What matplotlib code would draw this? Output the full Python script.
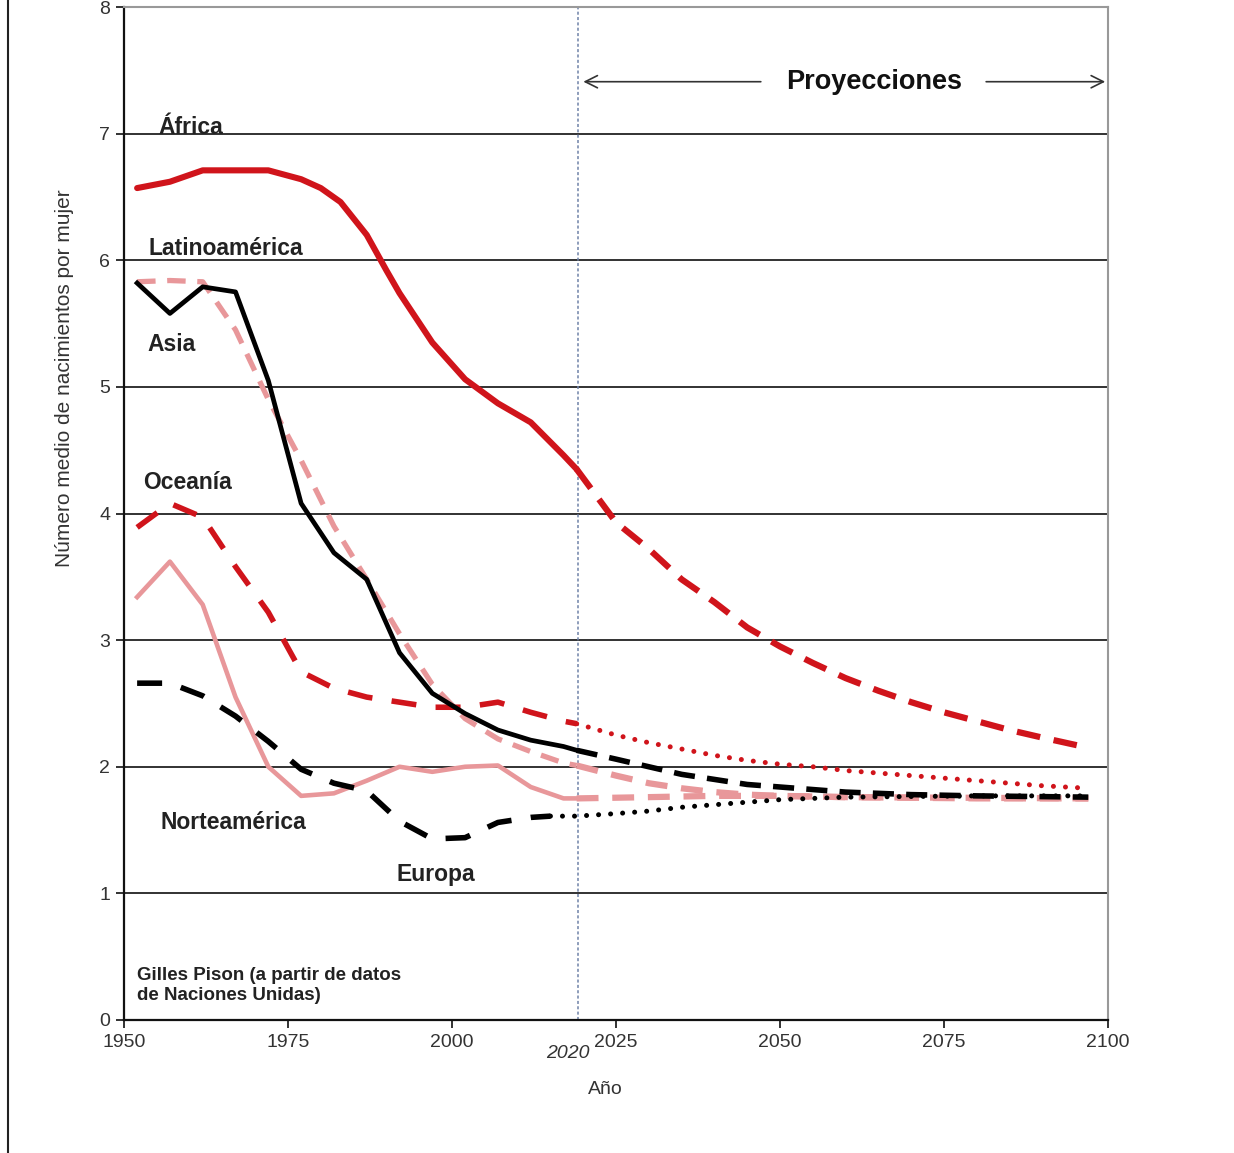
import matplotlib.pyplot as plt
from matplotlib.lines import Line2D
from matplotlib import transforms

plt.rcParams['font.family'] = ['Liberation Sans', 'DejaVu Sans']

# observed years (5-year midpoints) and the junction with projections
obs_years = [1952, 1957, 1962, 1967, 1972, 1977, 1982, 1987, 1992, 1997, 2002, 2007, 2012, 2017, 2019]

africa_years = [1952, 1957, 1962, 1967, 1972, 1977, 1980, 1983, 1987, 1990, 1992, 1997, 2002,
                2007, 2012, 2017, 2019]
africa_obs = [6.57, 6.62, 6.71, 6.71, 6.71, 6.64, 6.57, 6.46, 6.20, 5.92, 5.74, 5.35, 5.06,
              4.87, 4.72, 4.46, 4.35]
asia_obs = [5.82, 5.58, 5.79, 5.75, 5.05, 4.08, 3.69, 3.48, 2.90, 2.58, 2.42, 2.29, 2.21, 2.16, 2.13]
latam_obs = [5.83, 5.84, 5.83, 5.45, 4.90, 4.42, 3.90, 3.48, 3.05, 2.65, 2.38, 2.22, 2.12, 2.03, 2.01]
oceania_obs = [3.89, 4.08, 3.97, 3.58, 3.22, 2.75, 2.62, 2.55, 2.51, 2.47, 2.47, 2.51, 2.43, 2.36, 2.34]
namerica_obs = [3.34, 3.62, 3.28, 2.55, 2.00, 1.77, 1.79, 1.89, 2.00, 1.96, 2.00, 2.01, 1.84, 1.75, 1.75]

europe_years = [1952, 1957, 1962, 1967, 1972, 1977, 1982, 1987, 1992, 1997, 2002, 2007, 2012, 2015]
europe_obs = [2.66, 2.66, 2.56, 2.40, 2.20, 1.98, 1.87, 1.81, 1.57, 1.43, 1.44, 1.56, 1.60, 1.61]

# projections
africa_py = [2019, 2025, 2030, 2035, 2040, 2045, 2050, 2055, 2060, 2065, 2070, 2075, 2080, 2085, 2090, 2097]
africa_pv = [4.35, 3.93, 3.72, 3.48, 3.30, 3.10, 2.95, 2.82, 2.70, 2.60, 2.51, 2.43, 2.36, 2.29, 2.23, 2.15]
asia_py = [2019, 2025, 2030, 2035, 2040, 2045, 2050, 2060, 2070, 2080, 2097]
asia_pv = [2.13, 2.06, 2.00, 1.94, 1.90, 1.86, 1.84, 1.80, 1.78, 1.77, 1.76]
latam_py = [2019, 2025, 2030, 2035, 2040, 2045, 2050, 2060, 2097]
latam_pv = [2.01, 1.93, 1.87, 1.83, 1.80, 1.78, 1.77, 1.76, 1.75]
oceania_py = [2019, 2025, 2030, 2035, 2040, 2045, 2050, 2055, 2060, 2070, 2080, 2090, 2097]
oceania_pv = [2.34, 2.25, 2.19, 2.14, 2.09, 2.05, 2.02, 2.00, 1.97, 1.93, 1.89, 1.85, 1.83]
namerica_py = [2019, 2030, 2040, 2050, 2060, 2080, 2097]
namerica_pv = [1.75, 1.76, 1.77, 1.77, 1.76, 1.75, 1.75]
europe_py = [2015, 2019, 2025, 2030, 2035, 2040, 2045, 2050, 2060, 2080, 2097]
europe_pv = [1.61, 1.61, 1.63, 1.65, 1.68, 1.70, 1.72, 1.74, 1.76, 1.77, 1.77]

RED = '#d0141b'
PINK = '#e8979a'
BLACK = '#000000'

fig = plt.figure(figsize=(12.34, 11.53), dpi=100)
ax = fig.add_axes([124 / 1234, 1 - 1020 / 1153, 984 / 1234, 1013 / 1153])

# grid lines
for v in range(1, 8):
    ax.axhline(v, color='#222222', lw=1.3, zorder=1)

# observed
ax.plot(africa_years, africa_obs, color=RED, lw=4.4, solid_joinstyle='round',
        solid_capstyle='round', zorder=4)
ax.plot(obs_years, asia_obs, color=BLACK, lw=3.4, zorder=4)
ax.plot(obs_years, latam_obs, color=PINK, lw=3.8, dashes=(3.5, 2.2), zorder=3)
ax.plot(obs_years, oceania_obs, color=RED, lw=4, dashes=(4.5, 3.5), zorder=3)
ax.plot(obs_years, namerica_obs, color=PINK, lw=3.3, zorder=3)
ax.plot(europe_years, europe_obs, color=BLACK, lw=4, dashes=(4.5, 3.5), zorder=3)

# projections
ax.plot(africa_py, africa_pv, color=RED, lw=4.5, dashes=(3.8, 2.2), zorder=4)
ax.plot(asia_py, asia_pv, color=BLACK, lw=4, dashes=(3.8, 2.2), zorder=4)
ax.plot(latam_py, latam_pv, color=PINK, lw=4.5, dashes=(3.5, 2.2), zorder=3)
ax.plot(namerica_py, namerica_pv, color=PINK, lw=4.5, dashes=(3.5, 2.2), zorder=3)
ax.plot(oceania_py, oceania_pv, color=RED, lw=3.6, dashes=(0.01, 2.4),
        dash_capstyle='round', zorder=3)
ax.plot(europe_py, europe_pv, color=BLACK, lw=3.6, dashes=(0.01, 2.4),
        dash_capstyle='round', zorder=3)

# 2020 boundary
ax.axvline(2019.2, color='#6f82a8', lw=1.1, ls=(0, (2, 1.5)), zorder=2)

ax.set_xlim(1950, 2100)
ax.set_ylim(0, 8)
ax.set_xticks([1950, 1975, 2000, 2025, 2050, 2075, 2100])
ax.set_yticks(range(0, 9))
ax.tick_params(axis='both', direction='out', length=6, width=1.3, labelsize=14,
               labelcolor='#333333', color='#222222', pad=4)
for s in ['left', 'bottom']:
    ax.spines[s].set_color('#111111')
    ax.spines[s].set_linewidth(1.6)
for s in ['top', 'right']:
    ax.spines[s].set_color('#999999')
    ax.spines[s].set_linewidth(1.5)

lab = dict(fontsize=16.5, fontweight='bold', color='#222222', va='baseline')
ax.text(1955.3, 7.0, 'África', **lab)
ax.text(1953.8, 6.04, 'Latinoamérica', **lab)
ax.text(1953.5, 5.28, 'Asia', **lab)
ax.text(1952.9, 4.19, 'Oceanía', **lab)
ax.text(1955.5, 1.51, 'Norteamérica', **lab)
ax.text(1991.5, 1.10, 'Europa', **lab)

ax.text(2064.4, 7.41, 'Proyecciones', fontsize=19.5, fontweight='bold', color='#111111',
        ha='center', va='center')
ax.annotate('', xy=(2019.6, 7.41), xytext=(2047.5, 7.41),
            arrowprops=dict(arrowstyle='->', color='#333333', lw=1.2, mutation_scale=22))
ax.annotate('', xy=(2100, 7.41), xytext=(2081, 7.41),
            arrowprops=dict(arrowstyle='->', color='#333333', lw=1.2, mutation_scale=22))

ax.text(1952, 0.16, 'Gilles Pison (a partir de datos\nde Naciones Unidas)', fontsize=13.5,
        fontweight='bold', color='#222222', linespacing=1.2)

trans = transforms.blended_transform_factory(ax.transData, fig.transFigure)
ax.text(2017.7, 1 - 1053 / 1153, '2020', fontsize=14, style='italic', color='#333333',
        ha='center', va='center', transform=trans)

fig.text(65 / 1234, 1 - 378 / 1153, 'Número medio de nacimientos por mujer', rotation=90,
         fontsize=15, color='#333333', ha='center', va='center')
fig.text(605 / 1234, 1 - 1089 / 1153, 'Año', fontsize=14, color='#333333',
         ha='center', va='center')

# left frame line of the original image
fig.add_artist(Line2D([7.5 / 1234, 7.5 / 1234], [0, 1], color='#222222', lw=1.5))

fig.savefig('out.png', dpi=100, facecolor='white')
